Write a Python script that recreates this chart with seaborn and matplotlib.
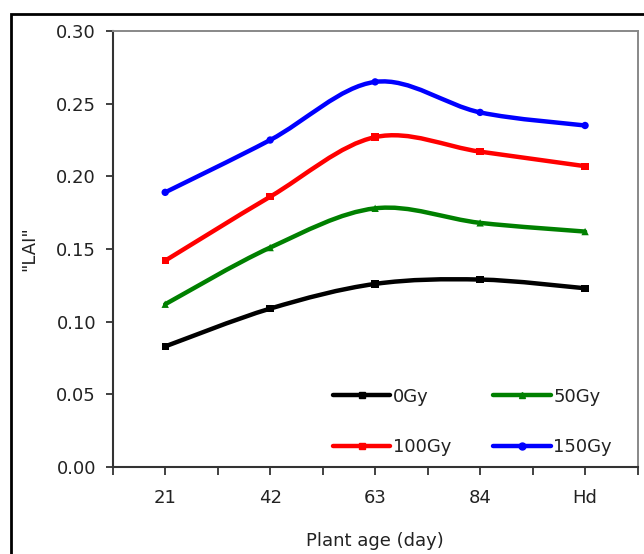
import matplotlib
matplotlib.use("Agg")
import matplotlib.pyplot as plt
import numpy as np
import pandas as pd
import seaborn as sns
from matplotlib.lines import Line2D
from matplotlib.patches import PathPatch, Rectangle
from matplotlib.path import Path

ages = ["21", "42", "63", "84", "Hd"]
lai_0gy = [0.083, 0.109, 0.126, 0.129, 0.123]
lai_50gy = [0.112, 0.151, 0.178, 0.168, 0.162]
lai_100gy = [0.142, 0.186, 0.227, 0.217, 0.207]
lai_150gy = [0.189, 0.225, 0.265, 0.244, 0.235]

series = {"0Gy": lai_0gy, "50Gy": lai_50gy, "100Gy": lai_100gy, "150Gy": lai_150gy}
colors = {"0Gy": "black", "50Gy": "#008000", "100Gy": "#ff0000", "150Gy": "#0000ff"}
markers = {"0Gy": "s", "50Gy": "^", "100Gy": "s", "150Gy": "o"}

rows = []
for name, vals in series.items():
    for i, (a, v) in enumerate(zip(ages, vals)):
        rows.append({"pos": i, "age": a, "LAI": v, "dose": name})
df = pd.DataFrame(rows)


def smooth_path(xs, ys):
    # excel-like smoothed line: cubic bezier through the points
    pts = np.column_stack([xs, ys]).astype(float)
    verts = [pts[0]]
    codes = [Path.MOVETO]
    n = len(pts)
    for i in range(n - 1):
        p0 = pts[max(i - 1, 0)]
        p1 = pts[i]
        p2 = pts[i + 1]
        p3 = pts[min(i + 2, n - 1)]
        c1 = p1 + (p2 - p0) / 6.0
        c2 = p2 - (p3 - p1) / 6.0
        verts += [c1, c2, p2]
        codes += [Path.CURVE4] * 3
    return Path(verts, codes)


sns.set_style("white")
plt.rcParams["font.family"] = ["DejaVu Sans"]
plt.rcParams["text.color"] = "#222222"
plt.rcParams["xtick.color"] = "#222222"
plt.rcParams["ytick.color"] = "#222222"
plt.rcParams["axes.labelcolor"] = "#222222"

fig = plt.figure(figsize=(6.44, 5.54), dpi=100)
ax = fig.add_axes([0.175, 0.157, 0.815, 0.787])

for name in series:
    sub = df[df["dose"] == name]
    ax.add_patch(PathPatch(smooth_path(sub["pos"], sub["LAI"]), facecolor="none",
                           edgecolor=colors[name], lw=3.2, capstyle="round", zorder=2))

sns.scatterplot(data=df, x="pos", y="LAI", hue="dose", style="dose",
                palette=colors, markers=markers, s=28, edgecolor="none",
                legend=False, ax=ax, zorder=3)

ax.set_xlim(-0.5, 4.5)
ax.set_ylim(0, 0.30)
ax.set_xticks(range(len(ages)))
ax.set_xticklabels(ages)
ax.set_xticks(np.arange(-0.5, 4.6, 1.0), minor=True)
ax.set_yticks(np.arange(0, 0.301, 0.05))
ax.set_yticklabels([f"{v:.2f}" for v in np.arange(0, 0.301, 0.05)])

ax.tick_params(axis="x", which="both", direction="out", length=6, width=1.3,
               color="#333333", bottom=True, labelsize=13, pad=10)
ax.tick_params(axis="y", direction="out", length=5, width=1.3, color="#333333",
               left=True, labelsize=13, pad=7)

ax.set_xlabel("Plant age (day)", fontsize=13, labelpad=18)
ax.set_ylabel('"LAI"', fontsize=13, labelpad=13)

for side in ["left", "bottom"]:
    ax.spines[side].set_color("#333333")
    ax.spines[side].set_linewidth(1.5)
for side in ["top", "right"]:
    ax.spines[side].set_color("#888888")
    ax.spines[side].set_linewidth(1.4)

# rows: 0Gy / 50Gy on top, 100Gy / 150Gy below (legend fills column-wise)
order = ["0Gy", "100Gy", "50Gy", "150Gy"]
handles = [Line2D([], [], color=colors[n], lw=3.2, marker=markers[n], markersize=5)
           for n in order]
ax.legend(handles, order, loc="lower left", bbox_to_anchor=(0.419, 0.025),
          borderaxespad=0, borderpad=0, ncol=2, frameon=False, fontsize=13,
          handlelength=3.2, handletextpad=0.15, columnspacing=2.3, labelspacing=1.8)

fig.patches.append(Rectangle((0.017, -0.2), 1.2, 1.175, transform=fig.transFigure,
                             fill=False, edgecolor="black", lw=2))

fig.savefig("out.png", dpi=100)
